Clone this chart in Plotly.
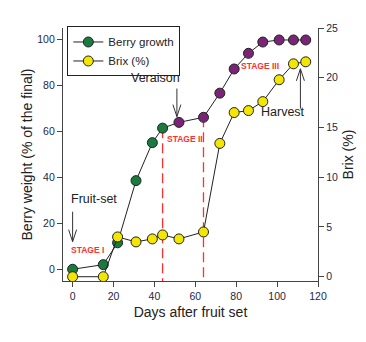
import plotly.graph_objects as go

# ---- data ----
days = [0, 15, 22, 31, 39, 44, 52, 64, 72, 79, 86, 93, 101, 108, 114]
berry_growth = [0, 2, 11.5, 38.5, 55, 61.3, 63.8, 66, 76.5, 87, 93.8, 98.7, 99.6, 99.6, 99.6]
brix = [0, 0, 4.0, 3.5, 3.8, 4.2, 3.8, 4.5, 13.4, 16.5, 16.7, 17.6, 19.8, 21.4, 21.6]
x_ticks = [0, 20, 40, 60, 80, 100, 120]
y_ticks = [0, 20, 40, 60, 80, 100]
y2_ticks = [0, 5, 10, 15, 20, 25]
veraison_index = 5   # last green point (stage II start)
stage3_index = 7     # start of ripening rise

GREEN = "#1b7a3e"
PURPLE = "#7a2478"
YELLOW = "#f3e600"
RED = "#ff2f2f"
FONT = "Liberation Sans, Arial, sans-serif"

berry_colors = [GREEN if d <= days[veraison_index] else PURPLE for d in days]

W, H = 366, 342
ML, MR, MT, MB = 63, 47.5, 28, 61
XR = [-4.7, 120]
YR = [-5.1, 104.8]
Y2R = [-0.43, 25.0]
pw = W - ML - MR
ph = H - MT - MB
px_x = (XR[1] - XR[0]) / pw
px_y = (YR[1] - YR[0]) / ph
px_y2 = (Y2R[1] - Y2R[0]) / ph

fig = go.Figure()
fig.add_trace(go.Scatter(
    x=days, y=berry_growth, name="Berry growth", mode="lines+markers",
    line=dict(color="#222222", width=1),
    marker=dict(color=berry_colors, size=10, line=dict(color="#222222", width=1)),
))
fig.add_trace(go.Scatter(
    x=days, y=brix, name="Brix (%)", mode="lines+markers", yaxis="y2",
    line=dict(color="#222222", width=1),
    marker=dict(color=YELLOW, size=10, line=dict(color="#222222", width=1)),
))

shapes = []
for idx in (veraison_index, stage3_index):
    shapes.append(dict(type="line", xref="x", yref="y", x0=days[idx], x1=days[idx],
                       y0=berry_growth[idx], y1=YR[0], layer="below",
                       line=dict(color=RED, width=1.3, dash="10px,5px")))

def vee(x, y, direction, yref="y"):
    sy = px_y if yref == "y" else px_y2
    dy = 12 * sy * (1 if direction == "down" else -1)
    dx = 4 * px_x
    path = f"M {x-dx},{y+dy} L {x},{y} L {x+dx},{y+dy}"
    return dict(type="path", xref="x", yref=yref, path=path,
                line=dict(color="#333333", width=1))

def stem(x, y0, y1, yref="y"):
    return dict(type="line", xref="x", yref=yref, x0=x, x1=x, y0=y0, y1=y1,
                line=dict(color="#333333", width=1))

# arrows
shapes += [stem(0, 25, 12), vee(0, 12, "down")]
shapes += [stem(51, 78.5, 66.3), vee(51, 66.3, "down")]
shapes += [stem(111.4, 16.9, 20.9, "y2"), vee(111.4, 20.9, "up", "y2")]

ann = []
def txt(x, y, s, size, color="#222222", yref="y"):
    ann.append(dict(x=x, y=y, xref="x", yref=yref, text=s, showarrow=False,
                    font=dict(size=size, color=color, family=FONT)))

txt(10.7, 30.6, "Fruit-set", 12.5)
txt(40.5, 83.0, "Veraison", 12.5)
txt(102.8, 68.2, "Harvest", 12.5)
txt(7.3, 8.2, "<b>STAGE I</b>", 8.5, RED)
txt(54.9, 56.7, "<b>STAGE II</b>", 8.5, RED)
txt(91.8, 88.3, "<b>STAGE III</b>", 8.5, RED)

axis_common = dict(showline=True, linecolor="#444444", linewidth=1.2, ticks="outside",
                   ticklen=5, tickwidth=1, tickcolor="#444444", showgrid=False, zeroline=False,
                   tickfont=dict(size=10.5, color="#1d2748", family=FONT))

fig.update_layout(
    width=W, height=H, margin=dict(l=ML, r=MR, t=MT, b=MB),
    paper_bgcolor="white", plot_bgcolor="white",
    font=dict(family=FONT, color="#222222"),
    xaxis=dict(range=XR, tickvals=x_ticks, **axis_common,
               title=dict(text="Days after fruit set", font=dict(size=14, color="#222222"), standoff=6)),
    yaxis=dict(range=YR, tickvals=y_ticks, **axis_common,
               title=dict(text="Berry weight (% of the final)", font=dict(size=14, color="#222222"), standoff=1)),
    yaxis2=dict(range=Y2R, tickvals=y2_ticks, overlaying="y", side="right", **axis_common,
                title=dict(text="Brix (%)", font=dict(size=14, color="#222222"), standoff=6)),
    legend=dict(x=0.017, y=1.006, xanchor="left", yanchor="top", bgcolor="white",
                bordercolor="#222222", borderwidth=1, font=dict(size=11.5, color="#222222"),
                tracegroupgap=0, itemwidth=30),
    showlegend=True,
    shapes=shapes, annotations=ann,
)

fig.write_html("out.html")
